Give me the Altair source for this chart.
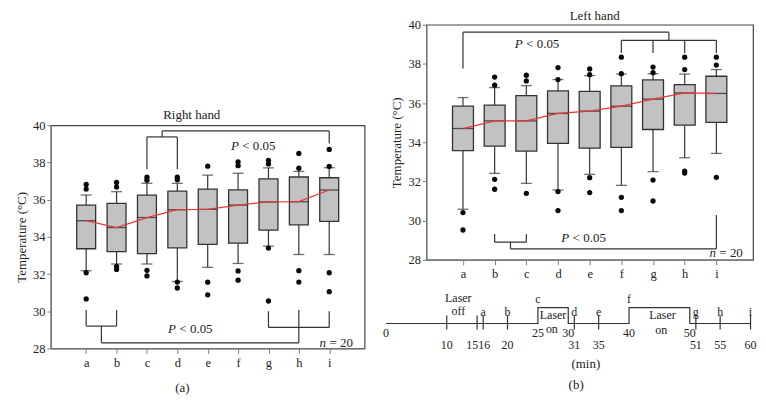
import altair as alt
import pandas as pd

FONT = "'Liberation Serif', 'Times New Roman', Tinos, 'DejaVu Serif', serif"
INK = "#222222"
LINE = "#333333"

cats = ["a", "b", "c", "d", "e", "f", "g", "h", "i"]

# ---------------- (a) Right hand ----------------
rh_lo = [32.18, 32.54, 32.54, 31.60, 32.36, 32.57, 33.50, 33.05, 33.05]
rh_q1 = [33.36, 33.21, 33.10, 33.41, 33.60, 33.66, 34.36, 34.65, 34.83]
rh_med = [34.87, 34.50, 35.04, 35.46, 35.48, 35.71, 35.88, 35.89, 36.52]
rh_q3 = [35.71, 35.80, 36.25, 36.46, 36.57, 36.53, 37.12, 37.22, 37.18]
rh_hi = [36.25, 36.43, 36.88, 36.88, 37.32, 37.42, 37.71, 37.52, 37.72]
rh_out = [
    [36.82, 36.57, 32.07, 30.66],
    [36.93, 36.68, 32.41, 32.25],
    [37.21, 37.05, 32.20, 31.90],
    [37.21, 37.07, 31.57, 31.25],
    [37.80, 31.56, 30.88],
    [38.03, 37.83, 32.17, 31.67],
    [38.12, 37.92, 33.40, 30.55],
    [38.49, 37.69, 32.18, 31.57],
    [38.70, 37.79, 32.07, 31.05],
]
# significance brackets (category index units, temperature units)
rh_br_x = [3, 3, 4, 3.5, 3.5, 9, 1, 1, 2, 1.5, 1.5, 8, 7, 7, 9]
rh_br_x2 = [3, 4, 4, 3.5, 9, 9, 1, 2, 2, 1.5, 8, 8, 7, 9, 9]
rh_br_y = [37.64, 39.375, 37.64, 39.375, 39.70, 39.70, 30.06, 29.20, 29.20, 29.20, 28.30, 28.30, 30.00, 29.13, 29.13]
rh_br_y2 = [39.375, 39.375, 39.375, 39.70, 39.70, 39.02, 29.20, 29.20, 30.06, 28.30, 28.30, 30.06, 29.13, 29.13, 30.00]
rh_p_x = [6.04, 3.97]
rh_p_y = [38.88, 29.06]
rh_n_x = 8.91
rh_n_y = 28.27

# ---------------- (b) Left hand ----------------
lh_lo = [30.58, 32.41, 31.90, 31.56, 32.36, 31.80, 32.50, 33.21, 33.43]
lh_q1 = [33.57, 33.80, 33.55, 33.94, 33.70, 33.74, 34.65, 34.87, 35.01]
lh_med = [34.70, 35.09, 35.09, 35.47, 35.59, 35.84, 36.20, 36.52, 36.49]
lh_q3 = [35.84, 35.89, 36.38, 36.62, 36.60, 36.88, 37.18, 36.94, 37.37]
lh_hi = [36.28, 36.79, 36.89, 37.20, 37.40, 37.48, 37.50, 37.48, 37.71]
lh_out = [
    [30.41, 29.52],
    [37.33, 36.91, 32.11, 31.60],
    [37.42, 37.13, 31.39],
    [37.81, 37.20, 31.48, 30.51],
    [37.74, 37.45, 32.19, 31.43],
    [38.34, 37.50, 31.19, 30.51],
    [37.84, 37.55, 32.07, 31.00],
    [38.34, 37.71, 32.53, 32.43],
    [38.34, 37.94, 32.21],
]
lh_br_x = [1, 1, 7.5, 6, 6, 7, 8, 9, 2, 2, 3, 2.5, 2.5, 9]
lh_br_x2 = [1, 7.5, 7.5, 9, 6, 7, 8, 9, 2, 3, 3, 2.5, 9, 9]
lh_br_y = [37.76, 39.62, 39.62, 39.20, 39.20, 39.20, 39.20, 39.20, 29.32, 28.90, 28.90, 28.90, 28.56, 28.56]
lh_br_y2 = [39.62, 39.62, 39.20, 39.20, 38.55, 38.55, 38.55, 38.55, 28.90, 28.90, 29.32, 28.56, 28.56, 30.29]
lh_p_x = [2.90, 4.37]
lh_p_y = [39.03, 29.13]
lh_n_x = 9.0
lh_n_y = 28.34

# ---------------- timeline (minutes) ----------------
tl_step_m = [0, 25, 25, 30, 30, 40, 40, 50, 50, 60]
tl_step_lv = [0, 0, 1, 1, 0, 0, 1, 1, 0, 0]
tl_tick_m = [10, 15, 16, 20, 31, 35, 51, 55, 60]
tl_num_upper = [0, 25, 30, 40, 50]
tl_num_lower = [10, 20, 31, 35, 51, 55, 60]
tl_letter_m = [16, 20, 25, 31, 35, 40, 51, 55, 60]
tl_high_letters = ["c", "f"]
tl_laser_text = ["Laser", "off", "Laser", "on", "Laser", "on"]
tl_laser_m = [11.9, 11.9, 27.5, 27.3, 45.5, 45.3]
tl_laser_lv = [1.62, 0.79, 0.55, -0.33, 0.54, -0.38]

label_expr = "[" + ",".join("'%s'" % c for c in cats) + "][datum.value - 1]"
YSCALE = alt.Scale(domain=[28, 40], nice=False, zero=False)
XSCALE = alt.Scale(domain=[0, 10], nice=False, zero=False)


def yenc(field):
    return alt.Y(field + ":Q", scale=YSCALE,
                 axis=alt.Axis(values=list(range(28, 41, 2)), title="Temperature (°C)",
                               tickSize=4, labelPadding=2, titlePadding=4,
                               labelFont=FONT, titleFont=FONT))


def xenc(field):
    return alt.X(field + ":Q", scale=XSCALE,
                 axis=alt.Axis(values=list(range(1, 10)), labelExpr=label_expr, title=None,
                               tickSize=5, labelPadding=3, labelFont=FONT))


def panel(lo, q1, med, q3, hi, outs, brx, brx2, bry, bry2, px, py, nx, ny,
          box_w, cap_w, width, height, title, title_dx, title_dy, caption=None):
    idx = list(range(1, 10))
    df = pd.DataFrame({"idx": idx, "cat": cats, "lo": lo, "q1": q1, "med": med, "q3": q3, "hi": hi})
    out_rows = [{"idx": i + 1, "v": v} for i, vals in enumerate(outs) for v in vals]
    odf = pd.DataFrame(out_rows)
    bdf = pd.DataFrame({"x": brx, "x2": brx2, "y": bry, "y2": bry2})
    it_df = pd.DataFrame({"x": px + [nx], "y": py + [ny], "t": ["P", "P", "n"]})
    rt_df = pd.DataFrame({"x": px + [nx], "y": py + [ny], "t": ["< 0.05", "< 0.05", "= 20"]})

    base = alt.Chart(df)
    brackets = alt.Chart(bdf).mark_rule(color=LINE, strokeWidth=1.2).encode(
        x=xenc("x"), x2="x2:Q", y=yenc("y"), y2="y2:Q")
    wh_up = base.mark_rule(color=LINE, strokeWidth=1.2).encode(x=xenc("idx"), y=yenc("q3"), y2="hi:Q")
    wh_dn = base.mark_rule(color=LINE, strokeWidth=1.2).encode(x=xenc("idx"), y=yenc("lo"), y2="q1:Q")
    cap_up = base.mark_tick(orient="horizontal", size=cap_w, thickness=1.3, color=LINE).encode(
        x=xenc("idx"), y=yenc("hi"))
    cap_dn = base.mark_tick(orient="horizontal", size=cap_w, thickness=1.3, color=LINE).encode(
        x=xenc("idx"), y=yenc("lo"))
    boxes = base.mark_bar(size=box_w, fill="#c2c2c2", stroke=LINE, strokeWidth=1.3).encode(
        x=xenc("idx"), y=yenc("q1"), y2="q3:Q")
    meds = base.mark_tick(orient="horizontal", size=box_w, thickness=1.3, color="#1a1a1a").encode(
        x=xenc("idx"), y=yenc("med"))
    dots = alt.Chart(odf).mark_circle(size=28, color="#0a0a0a", opacity=1).encode(
        x=xenc("idx"), y=yenc("v"))
    red = base.mark_line(color="#e4393a", strokeWidth=1.3).encode(x=xenc("idx"), y=yenc("med"))
    it_txt = alt.Chart(it_df).mark_text(font=FONT, fontSize=13, fontStyle="italic", align="right",
                                        baseline="middle", color=INK, dx=-0.5).encode(
        x=xenc("x"), y=yenc("y"), text="t:N")
    rt_txt = alt.Chart(rt_df).mark_text(font=FONT, fontSize=13, align="left",
                                        baseline="middle", color=INK, dx=3).encode(
        x=xenc("x"), y=yenc("y"), text="t:N")
    layers = [brackets, wh_up, wh_dn, cap_up, cap_dn, boxes, meds, dots, red, it_txt, rt_txt]
    if caption is not None:
        cdf = pd.DataFrame({"x": [caption[0]], "y": [caption[1]], "t": [caption[2]]})
        layers.append(alt.Chart(cdf).mark_text(font=FONT, fontSize=13, baseline="middle", color=INK).encode(
            x=xenc("x"), y=yenc("y"), text="t:N"))
    return alt.layer(*layers).properties(
        width=width, height=height,
        title=alt.TitleParams(text=title, font=FONT, fontSize=13, fontWeight="normal", color=INK,
                              anchor="middle", frame="group", dx=title_dx, dy=title_dy, offset=4))


left = panel(rh_lo, rh_q1, rh_med, rh_q3, rh_hi, rh_out, rh_br_x, rh_br_x2, rh_br_y, rh_br_y2,
             rh_p_x, rh_p_y, rh_n_x, rh_n_y, 19, 11, 315, 224, "Right hand", -16, 7,
             caption=(4.17, 25.85, "(a)"))
right = panel(lh_lo, lh_q1, lh_med, lh_q3, lh_hi, lh_out, lh_br_x, lh_br_x2, lh_br_y, lh_br_y2,
              lh_p_x, lh_p_y, lh_n_x, lh_n_y, 21, 11, 328, 236, "Left hand", 5, 8)

# ---------------- timeline ----------------
TX = alt.Scale(domain=[6.64, 60.41], nice=False, zero=False)
TY = alt.Scale(domain=[-4.25, 2], nice=False, zero=False)


def tx(f):
    return alt.X(f + ":Q", scale=TX, axis=None)


def ty(f):
    return alt.Y(f + ":Q", scale=TY, axis=None)


step_df = pd.DataFrame({"m": tl_step_m, "lv": tl_step_lv, "o": list(range(len(tl_step_m)))})
tick_df = pd.DataFrame({"m": tl_tick_m, "lo": [-0.375] * len(tl_tick_m), "hi": [0.5] * len(tl_tick_m)})
num_df = pd.DataFrame({
    "m": tl_num_upper + tl_num_lower,
    "lv": [-0.62] * len(tl_num_upper) + [-1.38] * len(tl_num_lower),
    "t": [str(v) for v in tl_num_upper + tl_num_lower],
})
n15_df = pd.DataFrame({"m": [15], "lv": [-1.38], "t": ["15"]})
n16_df = pd.DataFrame({"m": [16], "lv": [-1.38], "t": ["16"]})
let_df = pd.DataFrame({
    "m": tl_letter_m,
    "lv": [1.52 if c in tl_high_letters else 0.73 for c in cats],
    "t": cats,
})
las_df = pd.DataFrame({"m": tl_laser_m, "lv": tl_laser_lv, "t": tl_laser_text})
cap_df = pd.DataFrame({"m": [32.9, 31.3], "lv": [-2.54, -3.89], "t": ["(min)", "(b)"]})

txt = dict(font=FONT, fontSize=12, baseline="middle", color=INK)
timeline = alt.layer(
    alt.Chart(step_df).mark_line(color=LINE, strokeWidth=1.2).encode(x=tx("m"), y=ty("lv"), order="o:Q"),
    alt.Chart(tick_df).mark_rule(color=LINE, strokeWidth=1.2).encode(x=tx("m"), y=ty("lo"), y2="hi:Q"),
    alt.Chart(num_df).mark_text(**txt).encode(x=tx("m"), y=ty("lv"), text="t:N"),
    alt.Chart(n15_df).mark_text(align="right", dx=1, **txt).encode(x=tx("m"), y=ty("lv"), text="t:N"),
    alt.Chart(n16_df).mark_text(align="left", dx=-5, **txt).encode(x=tx("m"), y=ty("lv"), text="t:N"),
    alt.Chart(let_df).mark_text(**txt).encode(x=tx("m"), y=ty("lv"), text="t:N"),
    alt.Chart(las_df).mark_text(**txt).encode(x=tx("m"), y=ty("lv"), text="t:N"),
    alt.Chart(cap_df).mark_text(font=FONT, fontSize=13, baseline="middle", color=INK).encode(
        x=tx("m"), y=ty("lv"), text="t:N"),
).properties(width=328, height=100, view=alt.ViewBackground(stroke="transparent"))

spacer = alt.Chart(pd.DataFrame({"v": [0]})).mark_point(opacity=0).properties(
    width=315, height=101, view=alt.ViewBackground(stroke="transparent"))

left_col = alt.vconcat(spacer, left, spacing=0, bounds="flush")
right_col = alt.vconcat(right, timeline, spacing=32, bounds="flush")

chart = alt.hconcat(left_col, right_col, spacing=16).properties(
    padding={"left": 6, "top": 0, "right": 0, "bottom": 0}
).configure(font=FONT).configure_view(
    stroke="#444444", strokeWidth=1.2
).configure_axis(
    grid=False, domainColor="#7d7d7d", domainWidth=1.3, tickColor="#7d7d7d", tickWidth=1,
    labelColor=INK, titleColor=INK, labelFont=FONT, titleFont=FONT,
    labelFontSize=12.5, titleFontSize=13, titleFontWeight="normal"
)

chart.save("out.html", embed_options={"renderer": "svg", "actions": False})
